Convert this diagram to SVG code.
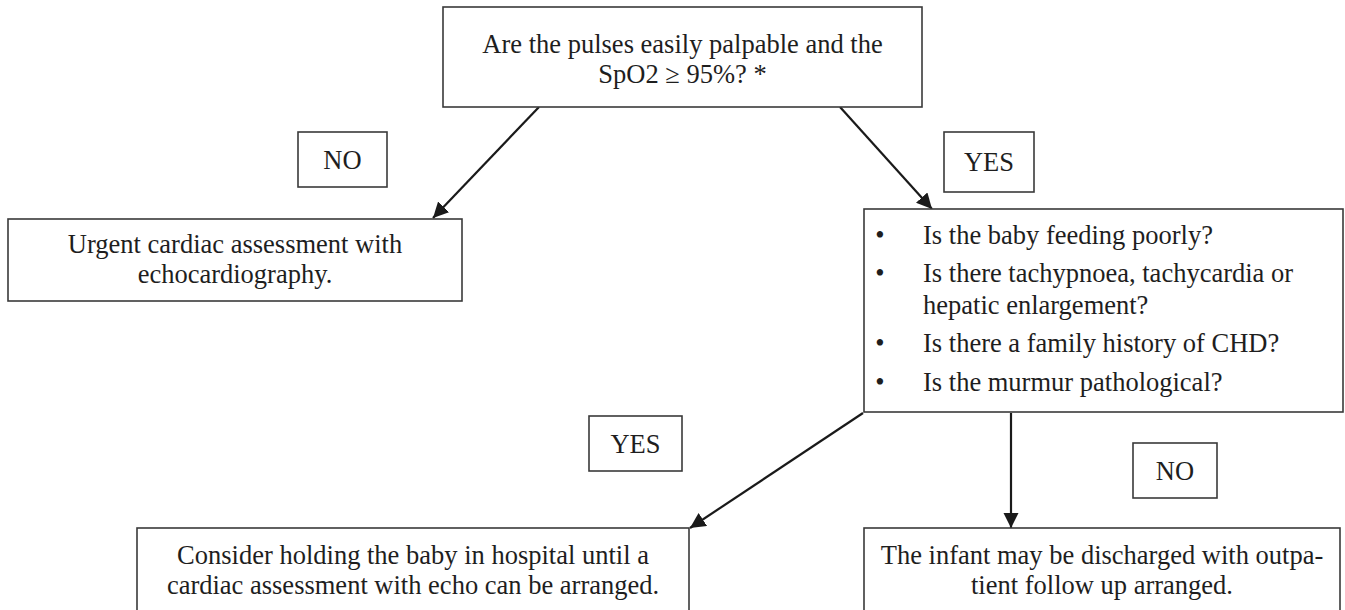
<svg xmlns="http://www.w3.org/2000/svg" width="1345" height="610" viewBox="0 0 1345 610">
<defs>
<style>
.box{fill:#fff;stroke:#3a3a3a;stroke-width:1.6}
.t{font-family:"Liberation Serif","Times New Roman",serif;font-size:26.5px;fill:#1e1e1e}
.c{text-anchor:middle}
.b{text-anchor:middle}
.edge{stroke:#1a1a1a;stroke-width:2.2;fill:none;marker-end:url(#ah)}
</style>
<marker id="ah" viewBox="0 0 10 10" refX="10" refY="5" markerWidth="7" markerHeight="7" markerUnits="strokeWidth" orient="auto">
<path d="M0,0 L10,5 L0,10 z" fill="#1a1a1a"/>
</marker>
</defs>
<rect width="1345" height="610" fill="#fff"/>
<g id="connectors">
<line class="edge" x1="539" y1="107" x2="433" y2="218"/>
<line class="edge" x1="840" y1="107" x2="932" y2="209"/>
<line class="edge" x1="863" y1="413" x2="690" y2="528"/>
<line class="edge" x1="1011" y1="413" x2="1011" y2="528"/>
</g>
<g id="q1">
<rect class="box" x="443" y="7" width="479" height="100"/>
<text class="t c" x="682.5" y="53">Are the pulses easily palpable and the</text>
<text class="t c" x="682.5" y="83">SpO2 ≥ 95%? *</text>
</g>
<g id="lbl-no1">
<rect class="box" x="298" y="132" width="89" height="55"/>
<text class="t c" x="342.5" y="169">NO</text>
</g>
<g id="lbl-yes1">
<rect class="box" x="944" y="132" width="90" height="60"/>
<text class="t c" x="989" y="171">YES</text>
</g>
<g id="urgent">
<rect class="box" x="8" y="219" width="454" height="82"/>
<text class="t c" x="235" y="253">Urgent cardiac assessment with</text>
<text class="t c" x="235" y="283">echocardiography.</text>
</g>
<g id="q2">
<rect class="box" x="864" y="209" width="479" height="203"/>
<text class="t b" x="880" y="244">•</text>
<text class="t" x="923" y="244">Is the baby feeding poorly?</text>
<text class="t b" x="880" y="282">•</text>
<text class="t" x="923" y="282">Is there tachypnoea, tachycardia or</text>
<text class="t" x="923" y="314">hepatic enlargement?</text>
<text class="t b" x="880" y="352">•</text>
<text class="t" x="923" y="352">Is there a family history of CHD?</text>
<text class="t b" x="880" y="391">•</text>
<text class="t" x="923" y="391">Is the murmur pathological?</text>
</g>
<g id="lbl-yes2">
<rect class="box" x="589" y="416" width="93" height="55"/>
<text class="t c" x="635.5" y="453">YES</text>
</g>
<g id="lbl-no2">
<rect class="box" x="1133" y="443" width="84" height="55"/>
<text class="t c" x="1175" y="480">NO</text>
</g>
<g id="hold">
<rect class="box" x="137" y="528" width="552" height="100"/>
<text class="t c" x="413" y="564">Consider holding the baby in hospital until a</text>
<text class="t c" x="413" y="594">cardiac assessment with echo can be arranged.</text>
</g>
<g id="discharge">
<rect class="box" x="864" y="528" width="476" height="100"/>
<text class="t c" x="1102" y="564">The infant may be discharged with outpa-</text>
<text class="t c" x="1102" y="594">tient follow up arranged.</text>
</g>
</svg>
